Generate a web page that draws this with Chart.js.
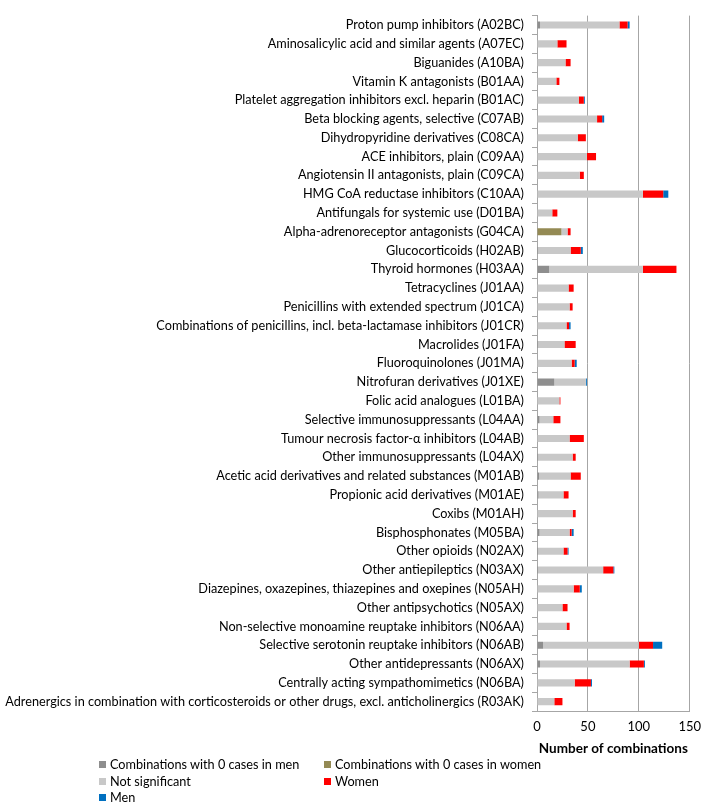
<!DOCTYPE html>
<html>
<head>
<meta charset="utf-8">
<script src="https://cdn.jsdelivr.net/npm/chart.js@4.4.1/dist/chart.umd.min.js"></script>
<style>
html,body{margin:0;padding:0;background:#fff;}
#wrap{position:relative;width:709px;height:803px;overflow:hidden;}
#legend{position:absolute;left:0;top:0;width:709px;height:803px;pointer-events:none;}
.item{position:absolute;display:flex;align-items:center;white-space:nowrap;color:#000;height:16px;line-height:16px;}
.sw{width:7px;height:7px;margin-right:4px;flex:none;}
</style>
</head>
<body>
<div id="wrap"><canvas id="c"></canvas><div id="legend"></div></div>
<script>
const categories = [
  "Proton pump inhibitors (A02BC)",
  "Aminosalicylic acid and similar agents (A07EC)",
  "Biguanides (A10BA)",
  "Vitamin K antagonists (B01AA)",
  "Platelet aggregation inhibitors excl. heparin (B01AC)",
  "Beta blocking agents, selective (C07AB)",
  "Dihydropyridine derivatives (C08CA)",
  "ACE inhibitors, plain (C09AA)",
  "Angiotensin II antagonists, plain (C09CA)",
  "HMG CoA reductase inhibitors (C10AA)",
  "Antifungals for systemic use (D01BA)",
  "Alpha-adrenoreceptor antagonists (G04CA)",
  "Glucocorticoids (H02AB)",
  "Thyroid hormones (H03AA)",
  "Tetracyclines (J01AA)",
  "Penicillins with extended spectrum (J01CA)",
  "Combinations of penicillins, incl. beta-lactamase inhibitors (J01CR)",
  "Macrolides (J01FA)",
  "Fluoroquinolones (J01MA)",
  "Nitrofuran derivatives (J01XE)",
  "Folic acid analogues (L01BA)",
  "Selective immunosuppressants (L04AA)",
  "Tumour necrosis factor-\u03b1 inhibitors (L04AB)",
  "Other immunosuppressants (L04AX)",
  "Acetic acid derivatives and related substances (M01AB)",
  "Propionic acid derivatives (M01AE)",
  "Coxibs (M01AH)",
  "Bisphosphonates (M05BA)",
  "Other opioids (N02AX)",
  "Other antiepileptics (N03AX)",
  "Diazepines, oxazepines, thiazepines and oxepines (N05AH)",
  "Other antipsychotics (N05AX)",
  "Non-selective monoamine reuptake inhibitors (N06AA)",
  "Selective serotonin reuptake inhibitors (N06AB)",
  "Other antidepressants (N06AX)",
  "Centrally acting sympathomimetics (N06BA)",
  "Adrenergics in combination with corticosteroids or other drugs, excl. anticholinergics (R03AK)"
];
const zeroMen   = [3,0,0,0,0,0,0,0,0,0,0,0,1,12,0,0,0,1,0,17,0,2.5,0,1,2,1.5,0,2.5,1,1,0,0,0,6,3,0,0];
const zeroWomen = [0,0,0,0,0,0,0,0,0,0,0,24,0,0,0,0,0,0,0,0,0,0,0,0,0,0,0,0,0,0,0,0,0,0,0,0,0];
const notSig    = [78,20,28,19,41,59,40,49,42,104,15,6,32,92,31,32,29,26,34,31,22,13.5,32,34,31,24.5,35,29.5,25,64,36,25,29,94,88,37,17];
const women     = [8,9,5,3,5,5,8,9,4,20,5,3,10,33,5,3,2.5,11,3,0,1,7,14,3,10,5,3,2,4,10,6,5,3,14,14,16,8];
const men       = [2,0,0,0,1,2,0,0,0,5,0,0,2,0,0,0,1.5,0,2,1,0,0,0,0,0,0,0,2,1,1,2,0,0,9,1,1,0];
const seriesNames = ["Combinations with 0 cases in men","Combinations with 0 cases in women","Not significant","Women","Men"];
const seriesColors = ["#8e8e8e","#948a54","#c8c8c8","#ff0000","#0070c0"];
const xTickValues = [0,50,100,150];
const axisTitle = "Number of combinations";

const FONT = "Lato, 'Noto Sans', sans-serif";
const mctx = document.createElement('canvas').getContext('2d');
mctx.font = "13px " + FONT;
const longest = Math.max(...categories.map(c => mctx.measureText(c).width));
const labelSize = Math.round(Math.min(14.5, 13 * 519 / longest) * 10) / 10;

const seriesData = [zeroMen, zeroWomen, notSig, women, men];
const datasets = seriesNames.map((n, i) => ({
  label: n,
  data: seriesData[i],
  backgroundColor: seriesColors[i],
  borderWidth: 0,
  barPercentage: 0.76,
  categoryPercentage: 0.5
}));

new Chart(document.getElementById('c'), {
  type: 'bar',
  data: { labels: categories, datasets },
  options: {
    indexAxis: 'y',
    responsive: true,
    maintainAspectRatio: false,
    animation: false,
    layout: { padding: { left: 0, top: 2, right: 12, bottom: 46 } },
    plugins: { legend: { display: false }, tooltip: { enabled: false } },
    scales: {
      x: {
        stacked: true,
        min: 0, max: 150,
        afterBuildTicks: s => { s.ticks = xTickValues.map(v => ({ value: v })); },
        afterFit: s => { s.height = 46; },
        grid: { color: '#a6a6a6', lineWidth: 1, drawTicks: false },
        border: { display: true, color: '#a6a6a6', width: 1 },
        ticks: { color: '#000', padding: 8, font: { family: FONT, size: 13 } },
        title: { display: true, text: axisTitle, color: '#000', padding: { top: 0, bottom: 0 },
                 font: { family: FONT, size: 13.5, weight: 'bold' } }
      },
      y: {
        stacked: true,
        afterFit: s => { s.width = 537; },
        grid: { display: true, drawOnChartArea: false, drawTicks: true, tickLength: 5, color: '#a6a6a6', offset: true },
        border: { display: true, color: '#a6a6a6', width: 1 },
        ticks: { color: '#000', padding: 8, autoSkip: false, font: { family: FONT, size: labelSize } }
      }
    }
  }
});

const legendPos = [[99,764],[324,764],[99,781],[324,781],[99,797]];
const lg = document.getElementById('legend');
seriesNames.forEach((n, i) => {
  const d = document.createElement('div');
  d.className = 'item';
  d.style.left = legendPos[i][0] + 'px';
  d.style.top = (legendPos[i][1] - 8) + 'px';
  d.style.fontFamily = FONT;
  d.style.fontSize = labelSize + 'px';
  const sw = document.createElement('span');
  sw.className = 'sw';
  sw.style.background = seriesColors[i];
  const t = document.createElement('span');
  t.textContent = n;
  d.appendChild(sw); d.appendChild(t);
  lg.appendChild(d);
});
</script>
</body>
</html>
